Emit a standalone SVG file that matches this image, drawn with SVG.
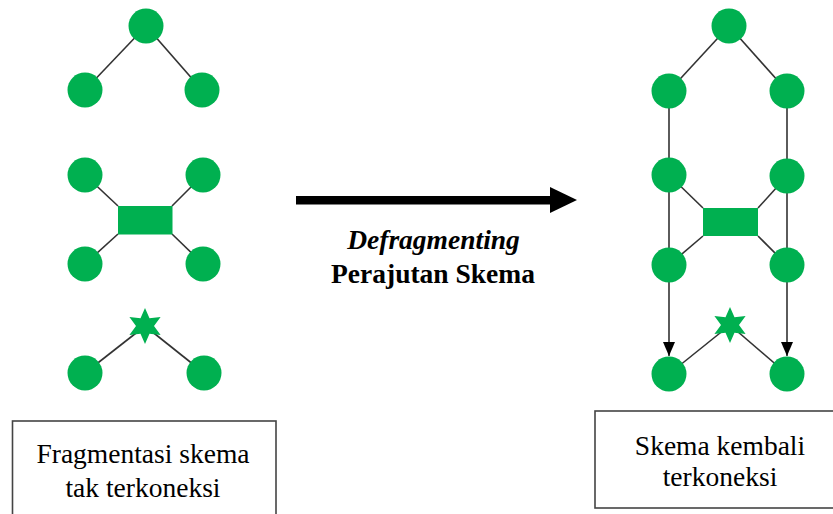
<svg xmlns="http://www.w3.org/2000/svg" width="833" height="514" viewBox="0 0 833 514">
<defs>
<style>
.n{fill:#00B050}
.e{stroke:#333;stroke-width:1.6;fill:none}
.t{font-family:"Liberation Serif","Times New Roman",serif;font-size:27.5px;fill:#000;text-anchor:middle}
.b{font-weight:bold}
.box{fill:#fff;stroke:#444;stroke-width:1.6}
</style>
<marker id="ah" markerWidth="14" markerHeight="12" viewBox="0 0 14 12" refX="14" refY="6" orient="auto" markerUnits="userSpaceOnUse">
<path d="M0,0 L14,6 L0,12 Z" fill="#000"/>
</marker>
<polygon id="star" points="0,-18 4.5,-7.8 15.6,-9 9,0 15.6,9 4.5,7.8 0,18 -4.5,7.8 -15.6,9 -9,0 -15.6,-9 -4.5,-7.8"/>
</defs>
<g id="connectors">
<line class="e" x1="146" y1="26" x2="85" y2="90"/>
<line class="e" x1="146" y1="26" x2="202" y2="90"/>
<line class="e" x1="85" y1="175" x2="118" y2="206"/>
<line class="e" x1="203" y1="175" x2="172" y2="206"/>
<line class="e" x1="85" y1="264" x2="118" y2="234"/>
<line class="e" x1="203" y1="264" x2="172" y2="234"/>
<line class="e" x1="145" y1="326" x2="85" y2="373"/>
<line class="e" x1="145" y1="326" x2="204" y2="373"/>
<line class="e" x1="729" y1="26" x2="669" y2="91"/>
<line class="e" x1="729" y1="26" x2="787" y2="91"/>
<line class="e" x1="669" y1="91" x2="669" y2="265"/>
<line class="e" x1="787" y1="91" x2="787" y2="265"/>
<line class="e" x1="669" y1="175" x2="703" y2="208"/>
<line class="e" x1="787" y1="176" x2="758" y2="208"/>
<line class="e" x1="669" y1="265" x2="703" y2="236"/>
<line class="e" x1="787" y1="265" x2="758" y2="236"/>
<line class="e" x1="669" y1="265" x2="669" y2="356" marker-end="url(#ah)"/>
<line class="e" x1="787" y1="265" x2="787" y2="356" marker-end="url(#ah)"/>
<line class="e" x1="730" y1="325" x2="669" y2="374"/>
<line class="e" x1="730" y1="325" x2="787" y2="374"/>
<g id="bigArrow">
<rect x="296" y="196" width="256" height="8.5" fill="#000"/>
<polygon points="550,187 577,200 550,213" fill="#000"/>
</g>
</g>
<g id="left-top"><circle class="n" cx="146" cy="26" r="17.5"/></g>
<g id="left-a"><circle class="n" cx="85" cy="90" r="17.5"/></g>
<g id="left-b"><circle class="n" cx="202" cy="90" r="17.5"/></g>
<g id="left-c"><circle class="n" cx="85" cy="175" r="17.5"/></g>
<g id="left-d"><circle class="n" cx="203" cy="175" r="17.5"/></g>
<g id="left-rect"><rect class="n" x="118" y="206" width="54.5" height="28.5"/></g>
<g id="left-e"><circle class="n" cx="85" cy="264" r="17.5"/></g>
<g id="left-f"><circle class="n" cx="203" cy="264" r="17.5"/></g>
<g id="left-star"><use href="#star" class="n" x="145" y="326"/></g>
<g id="left-g"><circle class="n" cx="85" cy="373" r="17.5"/></g>
<g id="left-h"><circle class="n" cx="204" cy="373" r="17.5"/></g>
<g id="right-top"><circle class="n" cx="729" cy="26" r="17.5"/></g>
<g id="right-a"><circle class="n" cx="669" cy="91" r="17.5"/></g>
<g id="right-b"><circle class="n" cx="787" cy="91" r="17.5"/></g>
<g id="right-c"><circle class="n" cx="669" cy="175" r="17.5"/></g>
<g id="right-d"><circle class="n" cx="787" cy="176" r="17.5"/></g>
<g id="right-rect"><rect class="n" x="703" y="208" width="55" height="28"/></g>
<g id="right-e"><circle class="n" cx="669" cy="265" r="17.5"/></g>
<g id="right-f"><circle class="n" cx="787" cy="265" r="17.5"/></g>
<g id="right-star"><use href="#star" class="n" x="730" y="325"/></g>
<g id="right-g"><circle class="n" cx="669" cy="374" r="17.5"/></g>
<g id="right-h"><circle class="n" cx="787" cy="374" r="17.5"/></g>
<g id="label">
<text class="t b" x="433.5" y="249" font-style="italic">Defragmenting</text>
<text class="t b" x="433" y="283">Perajutan Skema</text>
</g>
<g id="box-left">
<rect class="box" x="12.5" y="421" width="263.5" height="110"/>
<text class="t" x="143" y="463">Fragmentasi skema</text>
<text class="t" x="143" y="497">tak terkoneksi</text>
</g>
<g id="box-right">
<rect class="box" x="595" y="411" width="260" height="97"/>
<text class="t" x="720" y="455">Skema kembali</text>
<text class="t" x="720" y="486">terkoneksi</text>
</g>
</svg>
